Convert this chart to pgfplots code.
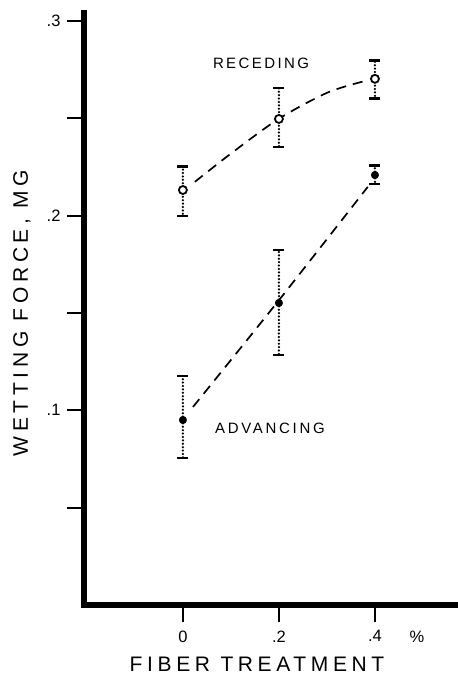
\documentclass[border=0pt]{standalone}
\usepackage{fontspec}
\setmainfont{Liberation Sans}
\usepackage{pgfplots}
\pgfplotsset{compat=1.18}
\begin{document}
\begin{tikzpicture}
\begin{axis}[
  at={(0,0)}, anchor=south west,
  scale only axis, width=374pt, height=592pt,
  xmin=-0.206, xmax=0.573, ymin=0, ymax=0.304,
  axis x line=bottom, axis y line=left,
  axis line style={line width=5.5pt, -, line cap=rect},
  tick align=outside, major tick length=17pt,
  tick style={line width=2pt, black},
  xtick={0,0.2,0.4}, xticklabels={0,.2,.4},
  ytick={0.05,0.1,0.15,0.2,0.25,0.3}, yticklabels={,.1,,.2,,.3},
  tick label style={font=\fontsize{16.5}{16.5}\selectfont},
  xticklabel style={yshift=-5pt},
  yticklabel style={xshift=-3pt},
  clip=false,
]
% Receding (open circles)
\addplot[only marks, mark=*, mark size=4pt,
  mark options={line width=1.8pt, fill=white, draw=black},
  error bars/.cd, y dir=both, y explicit,
  error bar style={line width=2.5pt, dash pattern=on 0pt off 3.4pt, line cap=round},
  error mark options={solid, line cap=butt, line width=2.8pt, mark size=5.5pt, rotate=90}]
  coordinates {
  (0,0.2131)   += (0,0.0119) -= (0,0.0133)
  (0.2,0.2496) += (0,0.0159) -= (0,0.0144)
  (0.4,0.2702) += (0,0.0092) -= (0,0.0103)
  };
% Advancing (filled circles)
\addplot[only marks, mark=*, mark size=3.8pt,
  mark options={fill=black, draw=black},
  error bars/.cd, y dir=both, y explicit,
  error bar style={line width=2.5pt, dash pattern=on 0pt off 3.4pt, line cap=round},
  error mark options={solid, line cap=butt, line width=2.8pt, mark size=5.5pt, rotate=90}]
  coordinates {
  (0,0.0950)   += (0,0.0226) -= (0,0.0195)
  (0.2,0.1551) += (0,0.0272) -= (0,0.0267)
  (0.4,0.2208) += (0,0.0047) -= (0,0.0046)
  };
% fitted dashed curves
\addplot[smooth, tension=0.5, line width=1.7pt, dash pattern=on 10pt off 7pt] coordinates {
  (0.025,0.2173) (0.1,0.2318) (0.2,0.2497) (0.3,0.2630) (0.375,0.2688)};
\addplot[smooth, line width=1.7pt, dash pattern=on 10pt off 7pt] coordinates {
  (0.021,0.1017) (0.2,0.1565) (0.385,0.2147)};
\end{axis}
\node[font=\fontsize{21}{21}\selectfont\addfontfeature{LetterSpace=22}] at (173pt,-59pt) {FIBER TREATMENT};
\node[font=\fontsize{21}{21}\selectfont\addfontfeature{LetterSpace=22}, rotate=90] at (-62pt,292pt) {WETTING FORCE, MG};
\node[font=\fontsize{16.5}{16.5}\selectfont] at (333pt,-32pt) {\%};
\node[font=\fontsize{15}{15}\selectfont\addfontfeature{LetterSpace=16}] at (177pt,542pt) {RECEDING};
\node[font=\fontsize{15}{15}\selectfont\addfontfeature{LetterSpace=18}] at (186pt,177pt) {ADVANCING};
\pgfresetboundingbox
\path[use as bounding box] (-84pt,-70pt) rectangle (374pt,605pt);
\end{tikzpicture}
\end{document}
